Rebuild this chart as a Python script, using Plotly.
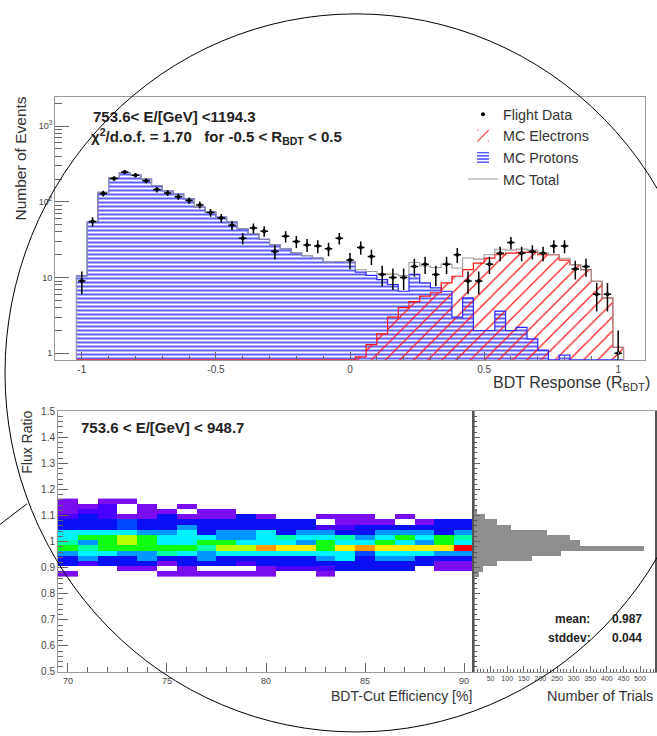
import numpy as np
import plotly.graph_objects as go

W, H = 657, 736


def px(x):
    return x / W


def py(y):
    return 1 - y / H


# ---------------- upper panel: BDT response ----------------
bdt_edges = np.round(np.linspace(-1.02, 1.02, 52), 2)
bdt_centers = np.round((bdt_edges[:-1] + bdt_edges[1:]) / 2, 2)

flight_data = [9, 55, 129, 203, 248, 224, 189, 145, 131, 117, 104, 91, 72, 61, 49, 33,
               45, 41, 22, 35, 30, 27, 26, 24, 33, 17, 25, 19, 11, 10, 10, 14, 15, 11,
               15, 20, 9, 9, 15, 21, 29, 21, 22, 21, 26, 26, 13, 14, 6, 6, 1]

mc_protons = [10.5, 54, 133, 209, 243, 229, 199, 163, 140, 126, 109, 85, 73, 63, 54, 44,
              38, 32, 27, 24, 21, 19.5, 18, 16, 16.3, 16, 11.8, 10.7, 9.4, 8.1, 6.6, 11,
              8.5, 7.3, 6.6, 3.0, 5.4, 2.0, 2.0, 3.6, 2.0, 2.2, 1.55, 1.1, 0, 0.95, 0, 0,
              0, 0, 0]

mc_electrons = [0] * 26 + [0.9, 1.3, 1.8, 3.0, 4.0, 4.8, 5.7, 6.3, 8.5, 10.4, 12.7, 15.5,
                           18, 20, 21, 21.5, 21.5, 20, 20, 17, 14.8, 12.7, 8.9, 5.4, 1.2]

mc_total = np.array(mc_protons) + np.array(mc_electrons)

# ---------------- lower panel: flux ratio vs BDT-cut efficiency ----------------
efficiency = list(range(70, 91))  # %
ratio_bins = [0.875, 0.895, 0.915, 0.935, 0.955, 0.975, 0.995, 1.015, 1.035, 1.055,
              1.075, 1.095, 1.115, 1.135, 1.155]

# colour level of every cell (0 = empty), rows bottom -> top, columns 70 .. 90
cell_level = [
    [1, 0, 0, 0, 0, 1, 1, 1, 1, 1, 1, 0, 0, 1, 0, 0, 0, 0, 0, 0, 0],
    [0, 0, 0, 1, 1, 0, 1, 0, 0, 0, 1, 2, 2, 2, 3, 3, 3, 3, 0, 1, 1],
    [3, 2, 3, 3, 3, 1, 3, 3, 3, 2, 3, 3, 3, 3, 3, 3, 3, 3, 3, 1, 1],
    [3, 5, 3, 3, 5, 3, 3, 5, 3, 3, 3, 3, 3, 5, 6, 3, 5, 5, 3, 3, 3],
    [5, 6, 6, 5, 5, 7, 6, 5, 6, 6, 6, 6, 6, 6, 6, 4, 6, 6, 6, 5, 5],
    [8, 7, 8, 8, 8, 8, 8, 7, 9, 9, 11, 10, 10, 8, 10, 11, 10, 10, 10, 10, 12],
    [7, 5, 8, 9, 8, 6, 6, 8, 8, 6, 6, 6, 5, 8, 6, 6, 8, 6, 5, 8, 6],
    [6, 8, 8, 9, 8, 6, 6, 6, 5, 5, 6, 7, 6, 6, 7, 5, 6, 8, 6, 8, 7],
    [6, 6, 6, 6, 5, 5, 6, 3, 5, 5, 6, 3, 5, 5, 3, 3, 5, 5, 5, 3, 5],
    [3, 3, 3, 4, 3, 3, 5, 3, 3, 3, 3, 3, 3, 2, 2, 3, 3, 3, 3, 3, 3],
    [3, 3, 3, 4, 3, 3, 3, 3, 3, 3, 3, 3, 3, 0, 1, 1, 1, 0, 1, 3, 3],
    [2, 3, 2, 1, 1, 3, 1, 1, 1, 3, 1, 0, 0, 1, 1, 1, 0, 1, 0, 0, 0],
    [1, 2, 2, 0, 1, 1, 0, 1, 1, 0, 0, 0, 0, 0, 0, 0, 0, 0, 0, 0, 0],
    [1, 1, 2, 0, 1, 0, 1, 0, 0, 0, 0, 0, 0, 0, 0, 0, 0, 0, 0, 0, 0],
    [1, 0, 1, 1, 0, 0, 0, 0, 0, 0, 0, 0, 0, 0, 0, 0, 0, 0, 0, 0, 0],
]

trials_per_bin = [15, 26, 70, 174, 261, 512, 319, 289, 221, 110, 68, 33, 8, 4, 3]

ratio_mean = "0.987"
ratio_stddev = "0.044"

# ---------------- styling ----------------
FONT = "Liberation Sans, Arial, Helvetica, sans-serif"
TICKC = "#666666"
FRAME = "#9a9a9a"
LABC = "#444444"
BLUE = "rgb(40,40,255)"
RED = "rgb(255,20,20)"
FLOOR = 0.82

palette = ["#7a0cf0", "#4a00ff", "#0a10f5", "#0048ff", "#0098ff", "#00f2ff",
           "#00ffa8", "#10ff10", "#b8ff00", "#ffec00", "#ff9a00", "#ff0000"]
colorscale = []
n = len(palette)
for i, c in enumerate(palette):
    colorscale.append([i / n, c])
    colorscale.append([(i + 1) / n, c])


def step_xy(vals):
    v = np.maximum(np.asarray(vals, float), FLOOR)
    xs = [bdt_edges[0]] + list(bdt_edges) + [bdt_edges[-1]]
    ys = [FLOOR] + list(v) + [v[-1], FLOOR]
    return xs, ys


def nz(vals):
    return [v if v > 0 else None for v in vals]


fig = go.Figure()

fig.add_trace(go.Bar(
    x=bdt_centers, y=nz(mc_protons), width=0.04, name="MC Protons", legendrank=3,
    marker=dict(color=BLUE, line=dict(width=0),
                pattern=dict(shape="-", size=4, solidity=0.38, fillmode="replace")),
    xaxis="x", yaxis="y"))
fig.add_trace(go.Bar(
    x=bdt_centers, y=nz(mc_electrons), width=0.04, name="MC Electrons", legendrank=2,
    marker=dict(color=RED, line=dict(width=0),
                pattern=dict(shape="/", size=10, solidity=0.12, fillmode="replace")),
    xaxis="x", yaxis="y"))

sx, sy = step_xy(mc_protons)
fig.add_trace(go.Scatter(x=sx, y=sy, mode="lines", line=dict(color=BLUE, width=1.2, shape="hv"),
                         showlegend=False, hoverinfo="skip", xaxis="x", yaxis="y"))
sx, sy = step_xy(mc_electrons)
fig.add_trace(go.Scatter(x=sx, y=sy, mode="lines", line=dict(color=RED, width=1.2, shape="hv"),
                         showlegend=False, hoverinfo="skip", xaxis="x", yaxis="y"))
sx, sy = step_xy(mc_total)
fig.add_trace(go.Scatter(x=sx, y=sy, mode="lines", line=dict(color="#9a9a9a", width=1.1, shape="hv"),
                         name="MC Total", legendrank=4, xaxis="x", yaxis="y"))

fig.add_trace(go.Scatter(
    x=bdt_centers, y=flight_data, mode="markers", name="Flight Data", legendrank=1,
    marker=dict(color="black", size=4),
    error_y=dict(type="data", array=np.sqrt(flight_data), color="black", thickness=1.5, width=0),
    error_x=dict(type="constant", value=0.014, color="black", thickness=1.5, width=0),
    xaxis="x", yaxis="y"))

# heat map
z = [[(v if v > 0 else None) for v in row] for row in cell_level]
fig.add_trace(go.Heatmap(
    x=efficiency, y=ratio_bins, z=z, colorscale=colorscale, zmin=0.5, zmax=12.5,
    showscale=False, xaxis="x2", yaxis="y2", hoverongaps=False))

# projection histogram
fig.add_trace(go.Bar(
    x=trials_per_bin, y=ratio_bins, orientation="h", showlegend=False,
    marker=dict(color="#8e8e8e", line=dict(width=0)), xaxis="x3", yaxis="y3"))

axis_common = dict(showgrid=False, zeroline=False, showline=True, linecolor=FRAME, linewidth=1,
                   mirror=True, ticks="inside", tickcolor=TICKC, tickwidth=1,
                   tickfont=dict(family=FONT, color=LABC))

fig.update_layout(
    width=W, height=H, margin=dict(l=0, r=0, t=0, b=0),
    paper_bgcolor="white", plot_bgcolor="white",
    barmode="overlay", bargap=0,
    font=dict(family=FONT, color="#333333"),
    showlegend=True,
    legend=dict(x=px(463), y=py(94), xanchor="left", yanchor="top", bgcolor="rgba(0,0,0,0)",
                font=dict(family=FONT, size=14.3, color="#333333"), tracegroupgap=0,
                itemwidth=30),
    xaxis=dict(axis_common, domain=[px(55), px(645)], range=[-1.1, 1.1], anchor="y",
               tickvals=[-1, -0.5, 0, 0.5, 1], ticktext=["-1", "-0.5", "0", "0.5", "1"],
               ticklen=8, tickfont=dict(family=FONT, size=10, color=LABC),
               minor=dict(tickvals=[round(-1.1 + 0.1 * i, 1) for i in range(23)],
                          ticks="inside", ticklen=4, tickcolor=TICKC)),
    yaxis=dict(axis_common, domain=[py(360), py(92)], type="log", range=[-0.09, 3.39], anchor="x",
               tickvals=[1, 10, 100, 1000], ticktext=["1", "10", "10<sup>2</sup>", "10<sup>3</sup>"],
               ticklen=14, tickfont=dict(family=FONT, size=9, color=LABC),
               minor=dict(tickvals=[m * 10 ** e for e in range(0, 4) for m in range(2, 10)],
                          ticks="inside", ticklen=7, tickcolor=TICKC)),
    xaxis2=dict(axis_common, domain=[px(58), px(474)], range=[69.5, 90.5], anchor="y2",
                tickvals=[70, 75, 80, 85, 90], ticklen=9,
                tickfont=dict(family=FONT, size=9, color=LABC),
                minor=dict(dtick=1, tick0=70, ticks="inside", ticklen=5, tickcolor=TICKC)),
    yaxis2=dict(axis_common, domain=[py(677), py(412)], range=[0.5, 1.5], anchor="x2",
                tickvals=[0.5, 0.6, 0.7, 0.8, 0.9, 1.0, 1.1, 1.2, 1.3, 1.4, 1.5],
                ticktext=["0.5", "0.6", "0.7", "0.8", "0.9", "1", "1.1", "1.2", "1.3", "1.4", "1.5"],
                ticklen=10, tickfont=dict(family=FONT, size=10, color=LABC),
                minor=dict(dtick=0.02, tick0=0.5, ticks="inside", ticklen=5, tickcolor=TICKC)),
    xaxis3=dict(axis_common, domain=[px(474), px(655)], range=[0, 545], anchor="y3",
                tickvals=list(range(50, 501, 50)), ticklen=6,
                tickfont=dict(family=FONT, size=7, color=LABC),
                minor=dict(dtick=10, tick0=0, ticks="inside", ticklen=3, tickcolor=TICKC)),
    yaxis3=dict(axis_common, domain=[py(677), py(412)], range=[0.5, 1.5], anchor="x3",
                showticklabels=False, tickvals=[0.6, 0.7, 0.8, 0.9, 1.0, 1.1, 1.2, 1.3, 1.4],
                ticklen=6, linecolor="#555555", linewidth=2,
                minor=dict(dtick=0.02, tick0=0.5, ticks="inside", ticklen=3, tickcolor="#555555")),
)

NB = "\u00a0"
ann = [
    dict(text="<b>753.6&lt; E/[GeV] &lt;1194.3</b>", x=px(91), y=py(112), xanchor="left",
         yanchor="middle", font=dict(size=15, color="#222222")),
    dict(text="<b>χ<sup>2</sup>/d.o.f. = 1.70" + NB * 3 + "for -0.5 &lt; R<sub>BDT</sub> &lt; 0.5</b>",
         x=px(89), y=py(133), xanchor="left", yanchor="middle", font=dict(size=15, color="#222222")),
    dict(text="Number of Events", x=px(20), y=py(155), textangle=-90, xanchor="center",
         yanchor="middle", font=dict(size=15.5, color="#333333")),
    dict(text="BDT Response (R<sub>BDT</sub>)", x=px(652), y=py(384), xanchor="right",
         yanchor="middle", font=dict(size=16, color="#333333")),
    dict(text="Flux Ratio", x=px(27), y=py(444), textangle=-90, xanchor="center",
         yanchor="middle", font=dict(size=14, color="#333333")),
    dict(text="<b>753.6 &lt; E/[GeV] &lt; 948.7</b>", x=px(79), y=py(428), xanchor="left",
         yanchor="middle", font=dict(size=15, color="#222222")),
    dict(text="<b>mean:</b>", x=px(553), y=py(623), xanchor="left", yanchor="middle",
         font=dict(size=12, color="#222222")),
    dict(text="<b>" + ratio_mean + "</b>", x=px(644), y=py(623), xanchor="right", yanchor="middle",
         font=dict(size=12, color="#222222")),
    dict(text="<b>stddev:</b>", x=px(546), y=py(642), xanchor="left", yanchor="middle",
         font=dict(size=12, color="#222222")),
    dict(text="<b>" + ratio_stddev + "</b>", x=px(644), y=py(642), xanchor="right", yanchor="middle",
         font=dict(size=12, color="#222222")),
    dict(text="BDT-Cut Efficiency [%]", x=px(474), y=py(701), xanchor="right", yanchor="middle",
         font=dict(size=14, color="#333333")),
    dict(text="Number of Trials", x=px(655), y=py(701), xanchor="right", yanchor="middle",
         font=dict(size=14.5, color="#333333")),
]
for a in ann:
    a.update(xref="paper", yref="paper", showarrow=False)
    a["font"]["family"] = FONT
fig.update_layout(annotations=ann)

fig.update_layout(shapes=[
    dict(type="circle", xref="paper", yref="paper", x0=px(5), x1=px(707), y0=py(738), y1=py(8),
         line=dict(color="black", width=1), layer="above"),
    dict(type="line", xref="paper", yref="paper", x0=px(0), y0=py(527), x1=px(27), y1=py(506),
         line=dict(color="black", width=1), layer="above"),
])

fig.write_html("out.html",
               config={"displayModeBar": False, "staticPlot": True},
               post_script="document.body.style.margin='0px';document.body.style.overflow='hidden';")
